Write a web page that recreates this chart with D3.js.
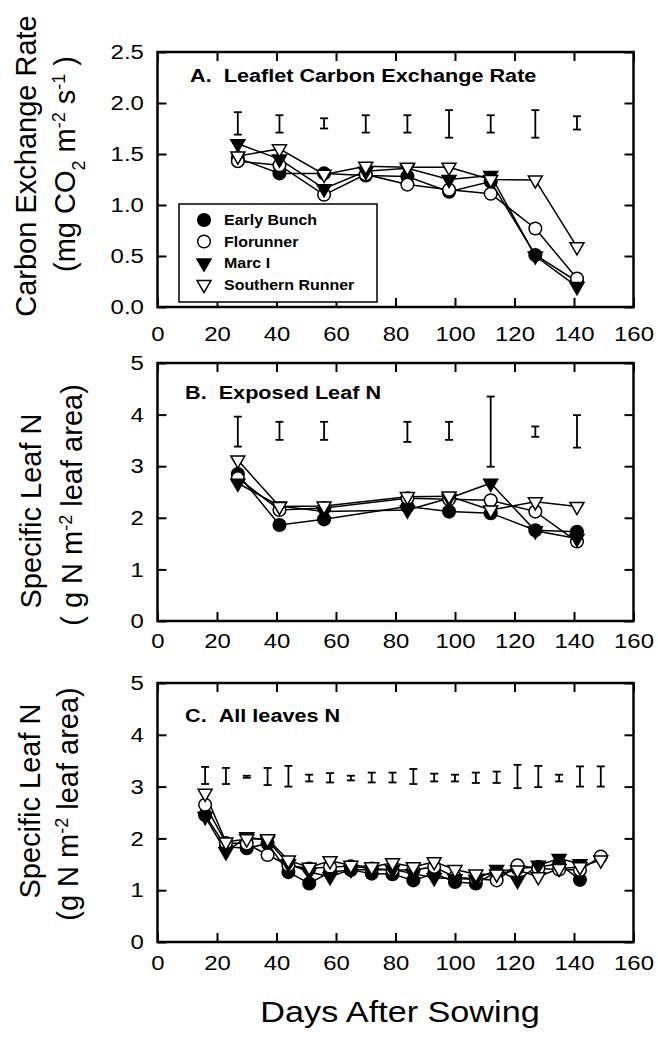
<!DOCTYPE html>
<html>
<head>
<meta charset="utf-8">
<script src="https://cdn.jsdelivr.net/npm/d3@7"></script>
<style>
body { margin: 0; background: #fff; }
text { font-family: "Liberation Sans", Arial, Helvetica, sans-serif; fill: #000; }
</style>
</head>
<body>
<svg id="chart" width="658" height="1038"></svg>
<script>
// cultivars, in legend order
var varieties = ["Early Bunch", "Florunner", "Marc I", "Southern Runner"];
var xTicks = [0, 20, 40, 60, 80, 100, 120, 140, 160];

// A. leaflet carbon exchange rate
var daysA = [27, 41, 56, 70, 84, 98, 112, 127, 141];
var cerEarly = [1.46, 1.31, 1.31, 1.29, 1.28, 1.13, 1.23, 0.51, 0.25];
var cerFlor  = [1.43, 1.39, 1.10, 1.30, 1.20, 1.15, 1.11, 0.77, 0.28];
var cerMarc  = [1.60, 1.45, 1.16, 1.33, 1.36, 1.25, 1.29, 0.50, 0.20];
var cerSouth = [1.48, 1.55, 1.30, 1.38, 1.37, 1.37, 1.25, 1.245, 0.59];
var cerBarLo = [1.69, 1.71, 1.75, 1.71, 1.71, 1.66, 1.71, 1.66, 1.74];
var cerBarHi = [1.91, 1.88, 1.85, 1.88, 1.88, 1.93, 1.88, 1.93, 1.87];
var yTicksA = [0, 0.5, 1.0, 1.5, 2.0, 2.5];

// B. exposed leaf N
var daysB = [27, 41, 56, 84, 98, 112, 127, 141];
var expEarly = [2.85, 1.86, 1.97, 2.22, 2.12, 2.09, 1.76, 1.73];
var expFlor  = [2.77, 2.15, 2.19, 2.38, 2.36, 2.34, 2.12, 1.54];
var expMarc  = [2.67, 2.23, 2.12, 2.15, 2.38, 2.67, 1.75, 1.60];
var expSouth = [3.12, 2.22, 2.23, 2.41, 2.42, 2.15, 2.31, 2.22];
var expBarLo = [3.38, 3.51, 3.51, 3.47, 3.51, 2.99, 3.57, 3.36];
var expBarHi = [3.96, 3.86, 3.86, 3.86, 3.86, 4.35, 3.77, 3.99];

// C. all leaves N
var daysC = [16, 23, 30, 37, 44, 51, 58, 65, 72, 79, 86, 93, 100, 107, 114, 121, 128, 135, 142, 149];
var allEarly = [2.45, 1.84, 1.81, 1.90, 1.35, 1.13, 1.35, 1.39, 1.32, 1.31, 1.19, 1.32, 1.16, 1.13, 1.35, 1.42, 1.45, 1.51, 1.20, null];
var allFlor  = [2.65, 1.91, 1.90, 1.68, 1.48, 1.42, 1.45, 1.46, 1.42, 1.39, 1.39, 1.45, 1.25, 1.22, 1.19, 1.48, 1.42, 1.40, 1.39, 1.65];
var allMarc  = [2.42, 1.74, 2.03, 1.96, 1.51, 1.35, 1.26, 1.40, 1.39, 1.40, 1.32, 1.24, 1.22, 1.21, 1.40, 1.19, 1.48, 1.61, 1.51, null];
var allSouth = [2.87, 1.93, 1.99, 1.99, 1.58, 1.44, 1.57, 1.48, 1.45, 1.53, 1.45, 1.55, 1.40, 1.31, 1.31, 1.39, 1.26, 1.42, 1.45, 1.58];
var allBarLo = [3.05, 3.05, 3.17, 3.03, 3.00, 3.10, 3.08, 3.12, 3.08, 3.08, 3.05, 3.10, 3.10, 3.07, 3.07, 2.97, 2.99, 3.10, 3.00, 3.00];
var allBarHi = [3.38, 3.36, 3.21, 3.36, 3.40, 3.23, 3.26, 3.21, 3.27, 3.27, 3.34, 3.25, 3.23, 3.27, 3.29, 3.42, 3.40, 3.23, 3.39, 3.39];
var yTicksN = [0, 1, 2, 3, 4, 5];

var svg = d3.select("#chart");
var STRETCH = 1.14;   // the original lettering is wide
var x = d3.scaleLinear().domain([0, 160]).range([157.5, 633.5]);

var markers = [
  {type: d3.symbolCircle, size: 125, fill: "#000", rot: 0},
  {type: d3.symbolCircle, size: 125, fill: "#fff", rot: 0},
  {type: d3.symbolTriangle, size: 85, fill: "#000", rot: 180},
  {type: d3.symbolTriangle, size: 85, fill: "#fff", rot: 180}
];

function marker(sel, k) {
  sel.attr("d", d3.symbol().type(markers[k].type).size(markers[k].size))
    .attr("fill", markers[k].fill)
    .attr("stroke", "#000")
    .attr("stroke-width", 1.5);
}

function wideText(parent, tx, ty, str, size, weight) {
  return parent.append("text")
    .attr("transform", "translate(" + tx + "," + ty + ") scale(" + STRETCH + ",1)")
    .attr("font-size", size)
    .attr("font-weight", weight || "normal")
    .text(str);
}

function yTitle(parent, tx, ty, parts) {
  var t = parent.append("text")
    .attr("transform", "translate(" + tx + "," + ty + ") rotate(-90)")
    .attr("text-anchor", "middle")
    .attr("font-size", 29);
  parts.forEach(function(p) {
    var s = t.append("tspan").text(p[0]);
    if (p[1]) s.attr("baseline-shift", p[1]).attr("font-size", "62%");
  });
}

function drawPanel(p) {
  var g = svg.append("g");
  var y = d3.scaleLinear().domain(p.yDomain).range([p.bottom, p.top]);

  function styleAxis(a) {
    a.select(".domain").remove();
    a.attr("font-family", null).attr("font-size", null);
    a.selectAll(".tick line").attr("stroke-width", 2);
    a.selectAll(".tick text").attr("font-size", 21)
      .attr("transform", "scale(" + STRETCH + ",1)");
  }

  g.append("g").attr("transform", "translate(0," + p.bottom + ")")
    .call(d3.axisBottom(x).tickValues(xTicks).tickSize(-9).tickPadding(p.xPad))
    .call(styleAxis);
  g.append("g").attr("transform", "translate(0," + p.top + ")")
    .call(d3.axisTop(x).tickValues(xTicks).tickSize(-9).tickFormat(""))
    .call(styleAxis);
  g.append("g").attr("transform", "translate(" + x.range()[0] + ",0)")
    .call(d3.axisLeft(y).tickValues(p.yTicks).tickSize(-9).tickPadding(12).tickFormat(p.fmt))
    .call(styleAxis);
  g.append("g").attr("transform", "translate(" + x.range()[1] + ",0)")
    .call(d3.axisRight(y).tickValues(p.yTicks).tickSize(-9).tickFormat(""))
    .call(styleAxis);

  g.append("rect")
    .attr("x", x.range()[0]).attr("y", p.top)
    .attr("width", x.range()[1] - x.range()[0]).attr("height", p.bottom - p.top)
    .attr("fill", "none").attr("stroke", "#000").attr("stroke-width", 2.5);

  // LSD bars
  var bars = g.append("g").attr("stroke", "#000").attr("stroke-width", 1.8);
  p.days.forEach(function(d, i) {
    var cx = x(d), lo = y(p.barLo[i]), hi = y(p.barHi[i]);
    bars.append("line").attr("x1", cx).attr("x2", cx).attr("y1", lo).attr("y2", hi);
    bars.append("line").attr("x1", cx - 4).attr("x2", cx + 4).attr("y1", lo).attr("y2", lo);
    bars.append("line").attr("x1", cx - 4).attr("x2", cx + 4).attr("y1", hi).attr("y2", hi);
  });

  var line = d3.line()
    .defined(function(d) { return d[1] != null; })
    .x(function(d) { return x(d[0]); })
    .y(function(d) { return y(d[1]); });

  var rows = p.series.map(function(vals) {
    return p.days.map(function(d, i) { return [d, vals[i]]; });
  });

  rows.forEach(function(r) {
    g.append("path").attr("d", line(r))
      .attr("fill", "none").attr("stroke", "#000").attr("stroke-width", 1.5);
  });

  rows.forEach(function(r, k) {
    g.append("g").selectAll("path")
      .data(r.filter(function(d) { return d[1] != null; }))
      .enter().append("path")
      .attr("transform", function(d) {
        return "translate(" + x(d[0]) + "," + y(d[1]) + ") rotate(" + markers[k].rot + ")";
      })
      .call(marker, k);
  });

  wideText(g, p.titleX, p.titleY, p.title, 19, "bold");
  p.ylab.forEach(function(l) { yTitle(svg, l[0], l[1], l[2]); });
  return g;
}

var gA = drawPanel({
  days: daysA, series: [cerEarly, cerFlor, cerMarc, cerSouth],
  barLo: cerBarLo, barHi: cerBarHi,
  yDomain: [0, 2.5], yTicks: yTicksA, fmt: d3.format(".1f"),
  top: 52, bottom: 307, xPad: 19,
  title: "A.\u00a0\u00a0Leaflet Carbon Exchange Rate", titleX: 190, titleY: 82,
  ylab: [
    [36, 166, [["Carbon Exchange Rate"]]],
    [75, 164, [["(mg CO"], ["2", "sub"], [" m"], ["-2", "super"], [" s"], ["-1", "super"], [" )"]]]
  ]
});

drawPanel({
  days: daysB, series: [expEarly, expFlor, expMarc, expSouth],
  barLo: expBarLo, barHi: expBarHi,
  yDomain: [0, 5], yTicks: yTicksN, fmt: d3.format("d"),
  top: 363, bottom: 621, xPad: 12,
  title: "B.\u00a0\u00a0Exposed Leaf N", titleX: 185, titleY: 399,
  ylab: [
    [41, 511, [["Specific Leaf N"]]],
    [82, 505, [["( g N m"], ["-2", "super"], [" leaf area)"]]]
  ]
});

drawPanel({
  days: daysC, series: [allEarly, allFlor, allMarc, allSouth],
  barLo: allBarLo, barHi: allBarHi,
  yDomain: [0, 5], yTicks: yTicksN, fmt: d3.format("d"),
  top: 683, bottom: 942, xPad: 13,
  title: "C.\u00a0\u00a0All leaves N", titleX: 185, titleY: 722,
  ylab: [
    [40, 801, [["Specific Leaf N"]]],
    [78, 804, [["(g N m"], ["-2", "super"], [" leaf area)"]]]
  ]
});

// legend in panel A
var leg = gA.append("g");
leg.append("rect").attr("x", 179).attr("y", 204).attr("width", 198).attr("height", 98)
  .attr("fill", "#fff").attr("stroke", "#000").attr("stroke-width", 1.5);
varieties.forEach(function(name, k) {
  var cy = 220 + k * 21.5;
  leg.append("path")
    .attr("transform", "translate(204," + cy + ") rotate(" + markers[k].rot + ")")
    .call(marker, k);
  wideText(leg, 224, cy + 5, name, 14, "bold");
});

// shared x title
svg.append("text")
  .attr("transform", "translate(400,1022) scale(" + STRETCH + ",1)")
  .attr("text-anchor", "middle")
  .attr("font-size", 30)
  .text("Days After Sowing");
</script>
</body>
</html>
